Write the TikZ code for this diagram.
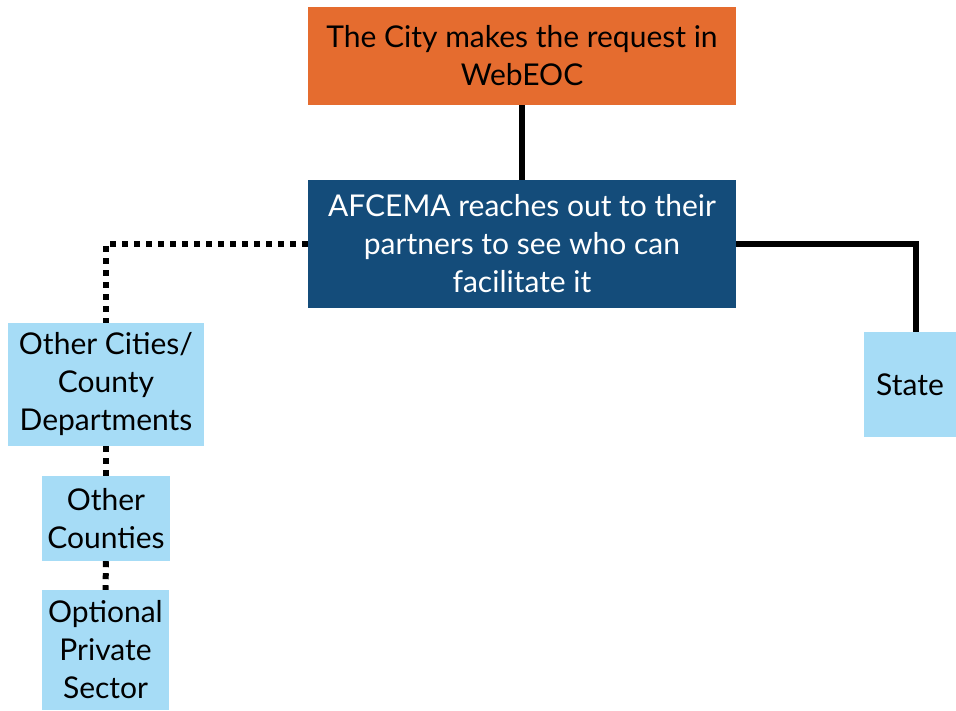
\documentclass[tikz,border=0pt]{standalone}
\usepackage{fontspec}
\setmainfont{Lato}
\definecolor{cityorange}{HTML}{E56C2F}
\definecolor{afcblue}{HTML}{144C7A}
\definecolor{partnerblue}{HTML}{A6DCF6}
\begin{document}
\begin{tikzpicture}[x=1pt,y=-1pt,
  box/.style={rectangle, inner sep=0pt, align=center, font=\fontsize{30}{38}\selectfont},
  solidlink/.style={line width=6pt, black},
  dotlink/.style={line width=6pt, black, dash pattern=on 6pt off 6pt}]
\useasboundingbox (0,0) rectangle (956,710);
\node[box, fill=cityorange, minimum width=428pt, minimum height=98pt] (city) at (522,56) {The City makes the request in\\WebEOC};
\node[box, fill=afcblue, text=white, minimum width=428pt, minimum height=128pt] (afc) at (522,244) {AFCEMA reaches out to their\\partners to see who can\\facilitate it};
\node[box, fill=partnerblue, minimum width=196pt, minimum height=123pt] (occ) at (106,384.5) {Other Cities/\\County\\Departments};
\node[box, fill=partnerblue, minimum width=128pt, minimum height=85pt] (oco) at (106,518.5) {Other\\Counties};
\node[box, fill=partnerblue, minimum width=127pt, minimum height=120pt] (ops) at (105.5,650) {Optional\\Private\\Sector};
\node[box, fill=partnerblue, minimum width=92pt, minimum height=105pt] (state) at (910,384.5) {State};
\coordinate (statetop) at (916,332);
\draw[solidlink] (city.south) -- (afc.north);
\draw[solidlink] (afc.east) -| (statetop);
\draw[dotlink] (afc.west) -| (occ.north);
\draw[dotlink] (occ.south) -- (oco.north);
\draw[dotlink] (oco.south) -- (ops.north);
\end{tikzpicture}
\end{document}
